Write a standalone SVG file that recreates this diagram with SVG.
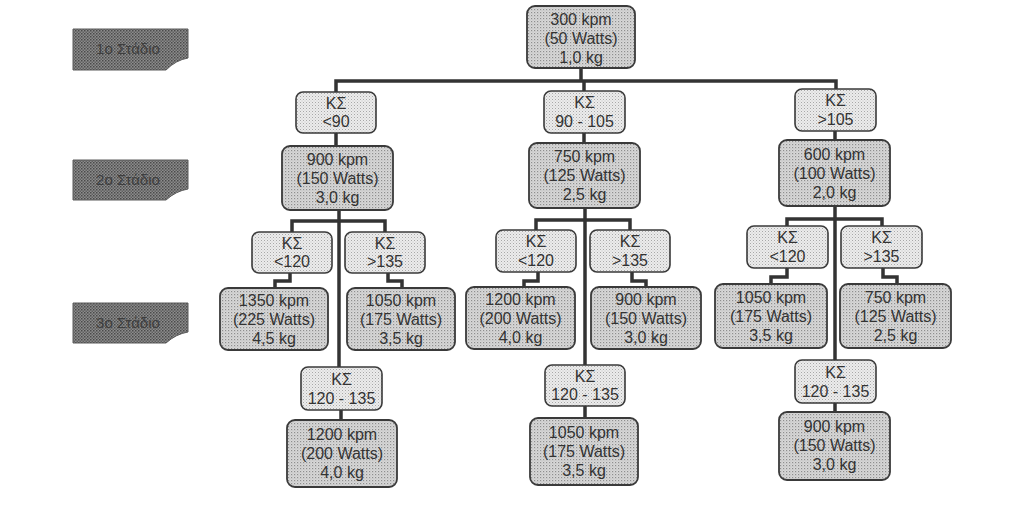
<svg xmlns="http://www.w3.org/2000/svg" width="1021" height="505" viewBox="0 0 1021 505">
<defs>
<pattern id="dotL" width="3" height="3" patternUnits="userSpaceOnUse"><rect width="3" height="3" fill="#ececec"/><rect x="0" y="0" width="1" height="1" fill="#a8a8a8"/><rect x="1.5" y="1.5" width="1" height="1" fill="#c4c4c4"/></pattern>
<pattern id="dotD" width="3" height="3" patternUnits="userSpaceOnUse"><rect width="3" height="3" fill="#d8d8d8"/><rect x="0" y="0" width="1.2" height="1.2" fill="#8e8e8e"/><rect x="1.5" y="1.5" width="1" height="1" fill="#b4b4b4"/></pattern>
<pattern id="dotS" width="3" height="3" patternUnits="userSpaceOnUse"><rect width="3" height="3" fill="#8c8c8c"/><rect x="0" y="0" width="1.5" height="1.5" fill="#4a4a4a"/><rect x="1.5" y="1.5" width="1.5" height="1.5" fill="#606060"/></pattern>
</defs>
<style>
text{font-family:"Liberation Sans",Arial,sans-serif;font-size:16px;fill:#333;text-anchor:middle}
.k{fill:url(#dotL);stroke:#3a3a3a;stroke-width:1.6}
.w{fill:url(#dotD);stroke:#3a3a3a;stroke-width:1.8}
.s{fill:url(#dotS);stroke:#5a5a5a;stroke-width:1}
.st{fill:#3e3e3e;font-size:15px}
.c{fill:none;stroke:#333;stroke-width:3.5;stroke-linejoin:miter}
</style>
<rect width="1021" height="505" fill="#ffffff"/>

<g id="stage1"><path class="s" d="M73,29 H188 V58 Q176,60 166,70 H73 Z"/><text class="st" x="128" y="54">1ο Στάδιο</text></g>
<g id="stage2"><path class="s" d="M73,160 H188 V189 Q176,191 166,200 H73 Z"/><text class="st" x="128" y="185">2ο Στάδιο</text></g>
<g id="stage3"><path class="s" d="M73,303 H188 V332 Q176,334 166,343 H73 Z"/><text class="st" x="128" y="328">3ο Στάδιο</text></g>

<g id="connectors">
<path class="c" d="M581,68 V81"/>
<path class="c" d="M336,92 V81 H836 V89"/>
<path class="c" d="M584,81 V91"/>
<path class="c" d="M336,133 V146"/>
<path class="c" d="M584,133 V143"/>
<path class="c" d="M835,131 V140"/>
<path class="c" d="M339,210 V367"/>
<path class="c" d="M292,232 V221 H385 V232"/>
<path class="c" d="M290,273 V281 H275 V288"/>
<path class="c" d="M388,273 V281 H402 V288"/>
<path class="c" d="M341,410 V420"/>
<path class="c" d="M585,208 V365"/>
<path class="c" d="M536,230 V220 H630 V230"/>
<path class="c" d="M538,272 V281 H524 V287"/>
<path class="c" d="M632,272 V281 H646 V287"/>
<path class="c" d="M585,406 V418"/>
<path class="c" d="M835,206 V360"/>
<path class="c" d="M787,226 V219 H882 V226"/>
<path class="c" d="M787,268 V277 H771 V284"/>
<path class="c" d="M883,268 V277 H897 V284"/>
<path class="c" d="M835,403 V412"/>
</g>

<g id="n_top"><rect class="w" x="527" y="6" width="108" height="62" rx="8"/><text x="581" y="25">300 kpm</text><text x="581" y="44">(50 Watts)</text><text x="581" y="63">1,0 kg</text></g>

<g id="k1a"><rect class="k" x="296" y="92" width="80" height="41" rx="7"/><text x="336" y="109">ΚΣ</text><text x="336" y="127">&lt;90</text></g>
<g id="k1b"><rect class="k" x="544" y="91" width="81" height="42" rx="7"/><text x="584.5" y="108">ΚΣ</text><text x="584.5" y="127">90 - 105</text></g>
<g id="k1c"><rect class="k" x="795" y="89" width="81" height="42" rx="7"/><text x="835.5" y="106">ΚΣ</text><text x="835.5" y="125">&gt;105</text></g>

<g id="w2a"><rect class="w" x="282" y="146" width="111" height="64" rx="8"/><text x="337.5" y="165">900 kpm</text><text x="337.5" y="184">(150 Watts)</text><text x="337.5" y="203">3,0 kg</text></g>
<g id="w2b"><rect class="w" x="529" y="143" width="111" height="65" rx="8"/><text x="584.5" y="162">750 kpm</text><text x="584.5" y="181">(125 Watts)</text><text x="584.5" y="200">2,5 kg</text></g>
<g id="w2c"><rect class="w" x="779" y="140" width="111" height="66" rx="8"/><text x="834.5" y="160">600 kpm</text><text x="834.5" y="179">(100 Watts)</text><text x="834.5" y="198">2,0 kg</text></g>

<g id="k3a1"><rect class="k" x="252" y="232" width="80" height="41" rx="7"/><text x="292" y="249">ΚΣ</text><text x="292" y="267">&lt;120</text></g>
<g id="k3a2"><rect class="k" x="345" y="232" width="80" height="41" rx="7"/><text x="385" y="249">ΚΣ</text><text x="385" y="267">&gt;135</text></g>
<g id="k3b1"><rect class="k" x="496" y="230" width="80" height="42" rx="7"/><text x="536" y="247">ΚΣ</text><text x="536" y="266">&lt;120</text></g>
<g id="k3b2"><rect class="k" x="590" y="230" width="80" height="42" rx="7"/><text x="630" y="247">ΚΣ</text><text x="630" y="266">&gt;135</text></g>
<g id="k3c1"><rect class="k" x="747" y="226" width="81" height="42" rx="7"/><text x="787.5" y="243">ΚΣ</text><text x="787.5" y="262">&lt;120</text></g>
<g id="k3c2"><rect class="k" x="841" y="226" width="81" height="42" rx="7"/><text x="881.5" y="243">ΚΣ</text><text x="881.5" y="262">&gt;135</text></g>

<g id="w3a1"><rect class="w" x="220" y="288" width="108" height="62" rx="8"/><text x="274" y="306">1350 kpm</text><text x="274" y="325">(225 Watts)</text><text x="274" y="344">4,5 kg</text></g>
<g id="w3a2"><rect class="w" x="347" y="288" width="108" height="62" rx="8"/><text x="401" y="306">1050 kpm</text><text x="401" y="325">(175 Watts)</text><text x="401" y="344">3,5 kg</text></g>
<g id="w3b1"><rect class="w" x="466" y="287" width="109" height="62" rx="8"/><text x="520.5" y="305">1200 kpm</text><text x="520.5" y="324">(200 Watts)</text><text x="520.5" y="343">4,0 kg</text></g>
<g id="w3b2"><rect class="w" x="591" y="287" width="110" height="62" rx="8"/><text x="646" y="305">900 kpm</text><text x="646" y="324">(150 Watts)</text><text x="646" y="343">3,0 kg</text></g>
<g id="w3c1"><rect class="w" x="715" y="284" width="112" height="64" rx="8"/><text x="771" y="303">1050 kpm</text><text x="771" y="322">(175 Watts)</text><text x="771" y="341">3,5 kg</text></g>
<g id="w3c2"><rect class="w" x="840" y="284" width="111" height="64" rx="8"/><text x="895.5" y="303">750 kpm</text><text x="895.5" y="322">(125 Watts)</text><text x="895.5" y="341">2,5 kg</text></g>

<g id="k4a"><rect class="k" x="301" y="367" width="81" height="43" rx="7"/><text x="341.5" y="385">ΚΣ</text><text x="341.5" y="404">120 - 135</text></g>
<g id="k4b"><rect class="k" x="545" y="365" width="80" height="41" rx="7"/><text x="585" y="382">ΚΣ</text><text x="585" y="400">120 - 135</text></g>
<g id="k4c"><rect class="k" x="795" y="360" width="81" height="43" rx="7"/><text x="835.5" y="378">ΚΣ</text><text x="835.5" y="397">120 - 135</text></g>

<g id="w4a"><rect class="w" x="287" y="420" width="110" height="67" rx="8"/><text x="342" y="440">1200 kpm</text><text x="342" y="459">(200 Watts)</text><text x="342" y="478">4,0 kg</text></g>
<g id="w4b"><rect class="w" x="530" y="418" width="108" height="67" rx="8"/><text x="584" y="438">1050 kpm</text><text x="584" y="457">(175 Watts)</text><text x="584" y="476">3,5 kg</text></g>
<g id="w4c"><rect class="w" x="779" y="412" width="111" height="68" rx="8"/><text x="834.5" y="432">900 kpm</text><text x="834.5" y="451">(150 Watts)</text><text x="834.5" y="470">3,0 kg</text></g>
</svg>
